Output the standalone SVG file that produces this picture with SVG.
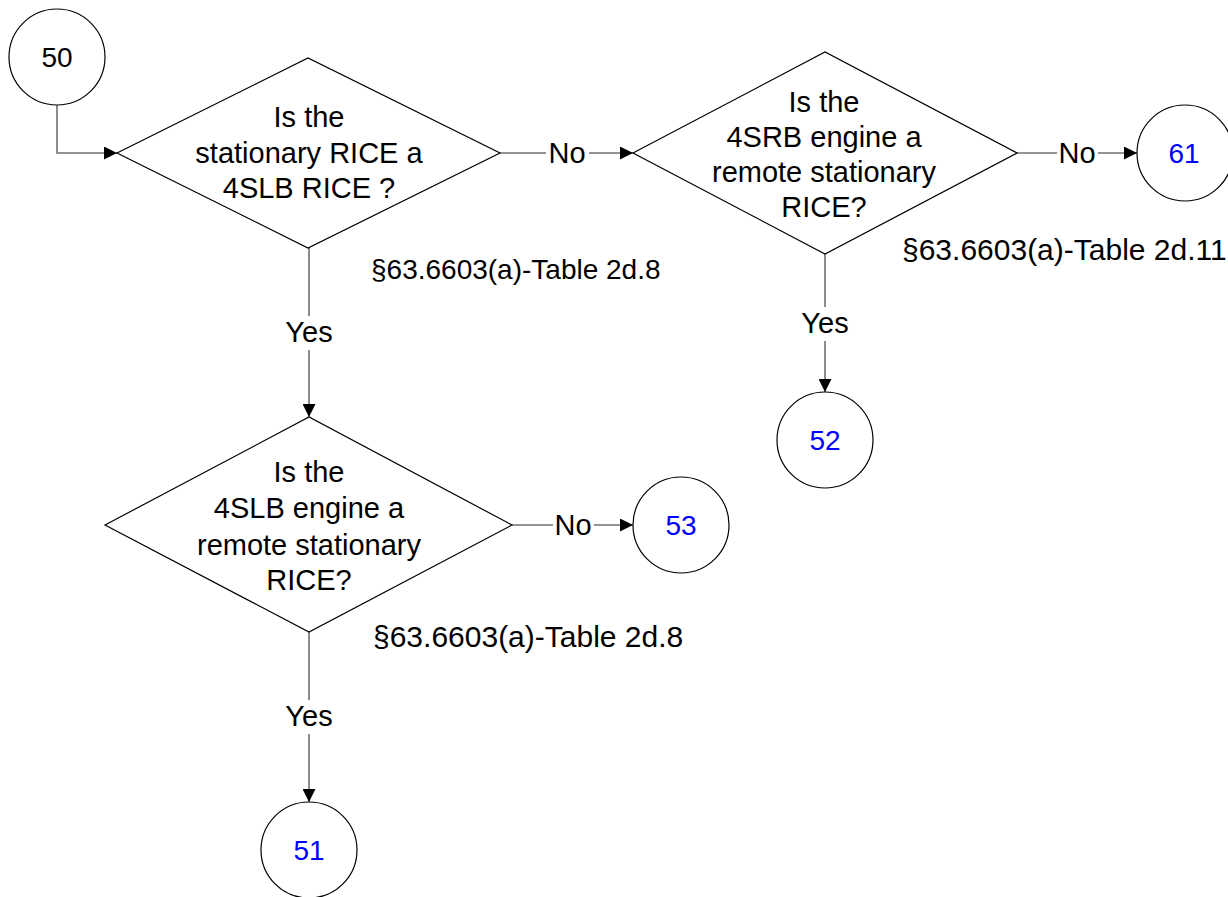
<svg xmlns="http://www.w3.org/2000/svg" width="1228" height="897" viewBox="0 0 1228 897">
<defs>
<style>
.shape{fill:#fff;stroke:#000;stroke-width:1.2}
.t{font-family:"Liberation Sans",Arial,sans-serif;font-size:29px;fill:#000;text-anchor:middle}
.n{font-family:"Liberation Sans",Arial,sans-serif;font-size:28px;text-anchor:middle}
.blue{fill:#0000ff}
.ref{font-family:"Liberation Sans",Arial,sans-serif;font-size:30px;fill:#000}
.c{fill:none;stroke:#707070;stroke-width:1.6}
.bg{fill:#fff}
</style>
<marker id="arr" markerUnits="userSpaceOnUse" markerWidth="14" markerHeight="13" refX="13" refY="6.5" orient="auto">
<path d="M0,0 L13,6.5 L0,13 z" fill="#000"/>
</marker>
</defs>
<rect width="1228" height="897" fill="#fff"/>
<g id="connectors">
<path class="c" d="M57,105 V153 H117" marker-end="url(#arr)"/>
<path class="c" d="M500,153 H633" marker-end="url(#arr)"/>
<rect class="bg" x="546" y="138" width="43" height="30"/>
<text class="t" x="567" y="163">No</text>
<path class="c" d="M1017,153 H1137" marker-end="url(#arr)"/>
<rect class="bg" x="1057" y="138" width="41" height="30"/>
<text class="t" x="1077" y="163">No</text>
<path class="c" d="M309,248 V417" marker-end="url(#arr)"/>
<rect class="bg" x="282" y="316" width="54" height="34"/>
<text class="t" x="309" y="342">Yes</text>
<path class="c" d="M825,254 V392" marker-end="url(#arr)"/>
<rect class="bg" x="798" y="307" width="54" height="34"/>
<text class="t" x="825" y="333">Yes</text>
<path class="c" d="M512,525 H633" marker-end="url(#arr)"/>
<rect class="bg" x="553" y="510" width="41" height="30"/>
<text class="t" x="573" y="535">No</text>
<path class="c" d="M309,632 V802" marker-end="url(#arr)"/>
<rect class="bg" x="282" y="700" width="54" height="34"/>
<text class="t" x="309" y="726">Yes</text>
</g>
<g id="n50">
<circle class="shape" cx="57" cy="57" r="48"/>
<text class="n" x="57" y="67" fill="#000">50</text>
</g>
<g id="d1">
<polygon class="shape" points="117,153 308,58 500,153 308,248"/>
<text class="t" x="309" y="127">Is the</text>
<text class="t" x="309" y="163">stationary RICE a</text>
<text class="t" x="309" y="198">4SLB RICE ?</text>
<text class="ref" x="371" y="279" style="font-size:28px">§63.6603(a)-Table 2d.8</text>
</g>
<g id="d2">
<polygon class="shape" points="633,153 825,52 1017,153 825,254"/>
<text class="t" x="824" y="112">Is the</text>
<text class="t" x="824" y="147">4SRB engine a</text>
<text class="t" x="824" y="182">remote stationary</text>
<text class="t" x="824" y="217">RICE?</text>
<text class="ref" x="902" y="260">§63.6603(a)-Table 2d.11</text>
</g>
<g id="d3">
<polygon class="shape" points="105,525 309,417 512,525 309,632"/>
<text class="t" x="309" y="482">Is the</text>
<text class="t" x="309" y="518">4SLB engine a</text>
<text class="t" x="309" y="555">remote stationary</text>
<text class="t" x="309" y="590">RICE?</text>
<text class="ref" x="373" y="647">§63.6603(a)-Table 2d.8</text>
</g>
<g id="n61">
<circle class="shape" cx="1185" cy="153" r="48"/>
<text class="n blue" x="1184" y="163">61</text>
</g>
<g id="n52">
<circle class="shape" cx="825" cy="440" r="48"/>
<text class="n blue" x="825" y="450">52</text>
</g>
<g id="n53">
<circle class="shape" cx="681" cy="525" r="48"/>
<text class="n blue" x="681" y="535">53</text>
</g>
<g id="n51">
<circle class="shape" cx="309" cy="850" r="48"/>
<text class="n blue" x="309" y="860">51</text>
</g>
</svg>
